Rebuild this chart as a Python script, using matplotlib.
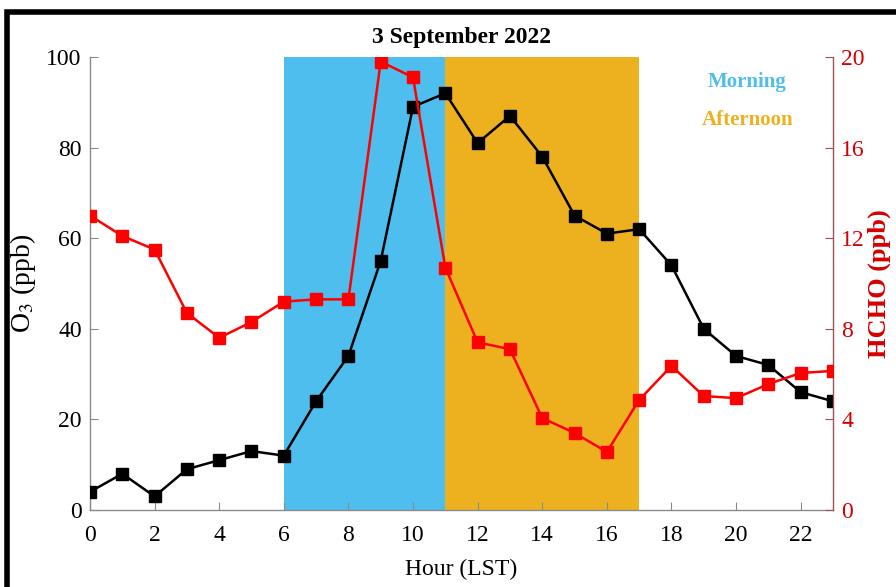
import matplotlib
matplotlib.use("Agg")
import matplotlib.pyplot as plt
import matplotlib.patches as mpatches

# hourly values
hours = list(range(24))
o3_ppb = [4, 8, 3, 9, 11, 13, 12, 24, 34, 55, 89, 92,
          81, 87, 78, 65, 61, 62, 54, 40, 34, 32, 26, 24]
hcho_ppb = [13.0, 12.1, 11.5, 8.7, 7.6, 8.3, 9.2, 9.3, 9.3, 19.8, 19.1, 10.7,
            7.4, 7.1, 4.06, 3.4, 2.56, 4.86, 6.36, 5.03, 4.94, 5.56, 6.05, 6.14]

morning_span = [6, 11]
afternoon_span = [11, 17]
left_ticks = [0, 20, 40, 60, 80, 100]
right_ticks = [0, 4, 8, 12, 16, 20]
hour_ticks = list(range(0, 24, 2))

BLUE   = "#4DBEEE"
ORANGE = "#EDB120"
RED    = "#FF0000"
DKRED  = "#D40000"
AXGRAY = "#8a8a8a"

plt.rcParams["font.family"] = ["Liberation Serif", "DejaVu Serif"]
plt.rcParams["mathtext.fontset"] = "stix"

fig = plt.figure(figsize=(8.96, 5.87), dpi=100)
ax = fig.add_axes([0.1004, 0.1312, 0.8293, 0.7717])

# outer black frame
frame = mpatches.Rectangle((7 / 896, -0.2), 1.2, 0.2 + (587 - 12) / 587,
                           transform=fig.transFigure, fill=False,
                           edgecolor="black", linewidth=4.0, clip_on=False)
fig.patches.append(frame)

ax.axvspan(*morning_span, color=BLUE, lw=0, zorder=0)
ax.axvspan(*afternoon_span, color=ORANGE, lw=0, zorder=0)

ax.plot(hours, o3_ppb, color="black", lw=1.8, marker="s", ms=8.7, zorder=3)
ax.set_xlim(0, 23)
ax.set_ylim(0, 100)
ax.set_xticks(hour_ticks)
ax.set_yticks(left_ticks)
ax.tick_params(direction="in", length=6, width=0.8, color=AXGRAY,
               labelsize=17, pad=6)
ax.tick_params(axis="x", pad=11)
ax.set_xlabel("Hour (LST)", fontsize=17, labelpad=9)
ax.set_ylabel("O$_3$ (ppb)", fontsize=20, labelpad=6)
ax.spines["top"].set_visible(False)
ax.spines["right"].set_visible(False)
for s in ["left", "bottom"]:
    ax.spines[s].set_color(AXGRAY)
    ax.spines[s].set_linewidth(1.0)

ax2 = ax.twinx()
ax2.plot(hours, hcho_ppb, color=RED, lw=1.8, marker="s", ms=8.7, zorder=3)
ax2.set_ylim(0, 20)
ax2.set_yticks(right_ticks)
ax2.tick_params(direction="in", length=6, width=0.8, color="#a05050",
                labelsize=17, labelcolor=DKRED, pad=6)
ax2.set_ylabel("HCHO (ppb)", fontsize=19, color=DKRED, fontweight="bold",
               labelpad=2)
for s in ["top", "left", "bottom"]:
    ax2.spines[s].set_visible(False)
ax2.spines["right"].set_color("#a05050")
ax2.spines["right"].set_linewidth(1.0)

ax.set_title("3 September 2022", fontsize=17, fontweight="bold", pad=10)

ax.text(0.885, 0.945, "Morning", transform=ax.transAxes, color=BLUE,
        fontsize=15, fontweight="bold", ha="center", va="center")
ax.text(0.885, 0.86, "Afternoon", transform=ax.transAxes, color=ORANGE,
        fontsize=15, fontweight="bold", ha="center", va="center")

fig.savefig("out.png", dpi=100)
